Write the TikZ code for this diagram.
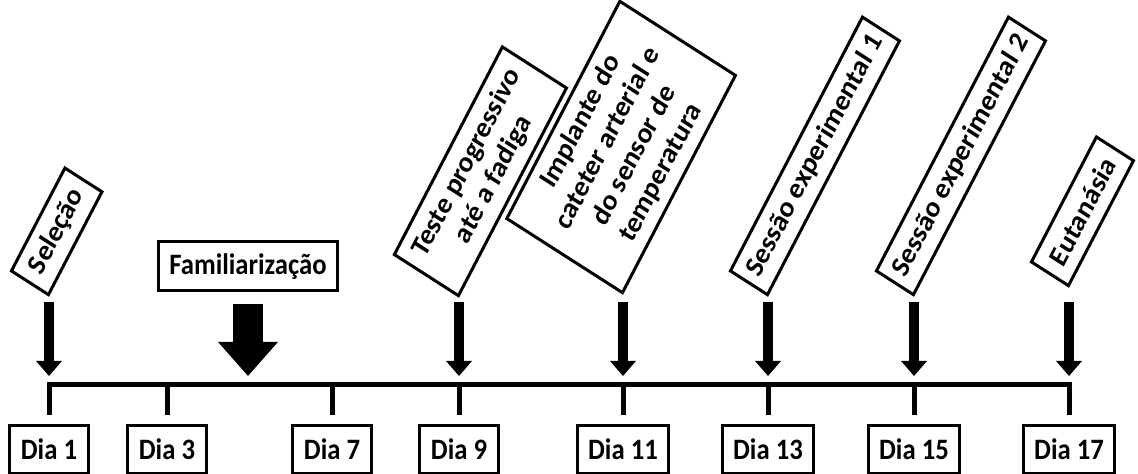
\documentclass[tikz,border=0pt]{standalone}
\usepackage{fontspec}
\setmainfont{Carlito}
\usepackage{tikz}
\usetikzlibrary{arrows.meta,positioning,calc}

\newcommand{\lblfont}{\bfseries\fontsize{15.2}{17.5}\selectfont}

\tikzset{
	daybox/.style={draw, line width=0.06cm, inner xsep=0.22cm, inner ysep=0pt, minimum height=0.865cm, font=\lblfont},
	evtbox/.style={draw, line width=0.06cm, inner sep=0pt, align=center, rotate=60, anchor=south west, font=\lblfont},
	evtarrow/.style={line width=0.2cm, -{Triangle[length=0.3cm, width=0.52cm, line width=0pt]}},
	bigarrow/.style={line width=0.6cm, -{Triangle[length=0.68cm, width=1.2cm, line width=0pt]}},
	axis/.style={line width=0.1cm, line join=miter},
}

\begin{document}
\begin{tikzpicture}
	\useasboundingbox (0,0) rectangle (22.76,9.48);
	\begin{scope}[yscale=1.11, transform shape]
	% days on the time line
	\foreach \d/\x in {1/0.98, 3/3.34, 7/6.64, 9/9.18, 11/12.46, 13/15.36, 15/18.28, 17/21.38} {
		\coordinate (d\d) at (\x,1.604);
		\node[daybox, below=0.70cm of d\d] (dia\d) {Dia \d};
	}
	\draw[axis] ([yshift=0.162cm]dia1.north) -- (d1) -- (d17) -- ([yshift=0.162cm]dia17.north);
	\foreach \d in {3,7,9,11,13,15}
		\draw[axis] (d\d) -- ([yshift=0.162cm]dia\d.north);

	% events
	\node[evtbox, minimum width=2.14cm, minimum height=0.855cm] (sel) at ([yshift=1.586cm]d1) {Seleção};
	\node[evtbox, minimum width=4.32cm, minimum height=1.48cm] (tst) at ([yshift=1.568cm]d9) {Teste progressivo\\até a fadiga};
	\node[evtbox, minimum width=4.52cm, minimum height=2.67cm] (imp) at ([yshift=1.622cm]d11) {Implante do\\cateter arterial e\\do sensor de\\temperatura};
	\node[evtbox, minimum width=5.28cm, minimum height=0.855cm] (se1) at ([yshift=1.586cm]d13) {Sessão experimental 1};
	\node[evtbox, minimum width=5.28cm, minimum height=0.855cm] (se2) at ([yshift=1.586cm]d15) {Sessão experimental 2};
	\node[evtbox, minimum width=2.6cm, minimum height=0.855cm] (eut) at ([yshift=1.748cm]d17) {Eutanásia};
	\foreach \lbl/\d/\gap in {sel/1/-0.09cm, tst/9/-0.072cm, imp/11/-0.126cm, se1/13/-0.09cm, se2/15/-0.09cm, eut/17/-0.252cm}
		\draw[evtarrow] ([yshift=\gap]\lbl.south west) -- ([yshift=0.162cm]d\d);

	% familiarization period
	\node[daybox, minimum width=3.56cm, minimum height=0.883cm] (fam) at (4.96,3.739) {Familiarização};
	\coordinate (famtip) at (fam.south |- d1);
	\draw[bigarrow] ([yshift=-0.198cm]fam.south) -- ([yshift=0.162cm]famtip);
	\end{scope}
\end{tikzpicture}
\end{document}
